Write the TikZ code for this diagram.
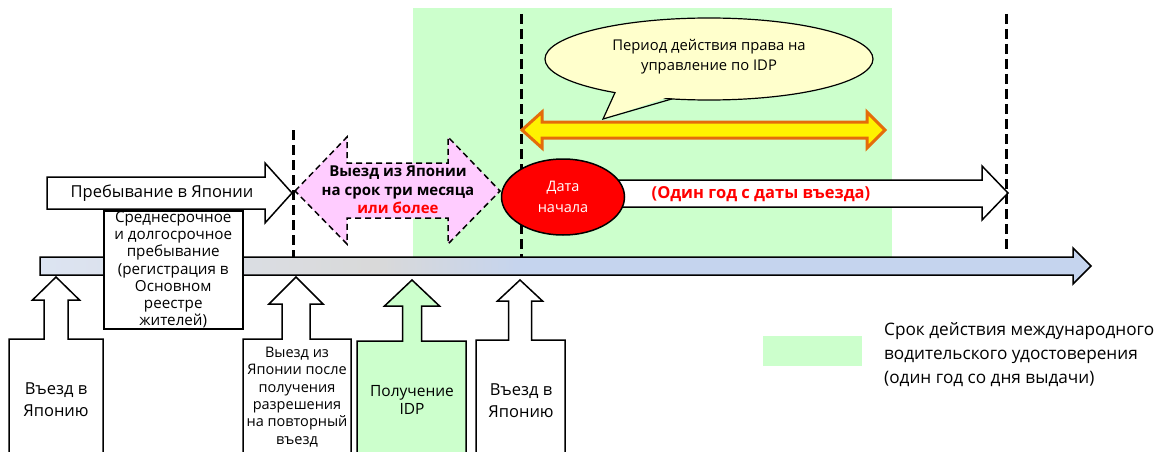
\documentclass[tikz,border=0pt]{standalone}
\usepackage{fontspec}
\setmainfont{Open Sans}
\usetikzlibrary{shapes.geometric}
\definecolor{idpgreen}{HTML}{CCFFCC}
\definecolor{pinkfill}{HTML}{FFCCFF}
\definecolor{bubble}{HTML}{FFFFCC}
\definecolor{orangeb}{HTML}{E46C0A}
\definecolor{barA}{HTML}{DCE4F2}
\definecolor{barB}{HTML}{D9D9D9}
\definecolor{barC}{HTML}{C5D4EE}
\pgfdeclarehorizontalshading{barshade}{100bp}{color(0bp)=(barA); color(25bp)=(barA); color(41bp)=(barB); color(48bp)=(barC); color(75bp)=(barC); color(100bp)=(barC)}
\newcommand{\upcall}[9]{%
  % #1 box left, #2 box right, #3 tip x, #4 tip y, #5 wing half, #6 shaft half, #7 head base y, #8 box top, #9 fill
  \filldraw[blk, fill=#9] (#3,#4) -- ({#3+#5},#7) -- ({#3+#6},#7) -- ({#3+#6},#8) -- (#2,#8) -- (#2,460)
    -- (#1,460) -- (#1,#8) -- ({#3-#6},#8) -- ({#3-#6},#7) -- ({#3-#5},#7) -- cycle;}
\begin{document}
\begin{tikzpicture}[x=1pt,y=-1pt, line join=miter]
\tikzset{
  blk/.style={draw=black, line width=1.5pt},
  dashv/.style={draw=black, line width=3pt, dash pattern=on 10pt off 5pt},
  txt/.style={font=\fontsize{14.5}{17.3}\selectfont, align=center, inner sep=0pt},
  bigtxt/.style={font=\fontsize{16.5}{22}\selectfont, align=center, inner sep=0pt},
}
\useasboundingbox (0,0) rectangle (1157,452);
\clip (0,0) rectangle (1157,452);
% validity region
\fill[idpgreen] (413,8) rectangle (892,257);
% dashed vertical lines
\draw[dashv] (293,130) -- (293,257);
\draw[dashv] (521,14) -- (521,257);
\draw[dashv] (1006,14) -- (1006,253);
% main timeline bar
\shade[shading=barshade] (40,257) -- (1073,257) -- (1073,248) -- (1091,266) -- (1073,284) -- (1073,275) -- (40,275) -- cycle;
\draw[blk] (40,257) -- (1073,257) -- (1073,248) -- (1091,266) -- (1073,284) -- (1073,275) -- (40,275) -- cycle;
% stay arrow
\filldraw[blk, fill=white] (47,177) -- (265,177) -- (265,163) -- (292,193) -- (265,223) -- (265,209) -- (47,209) -- cycle;
\node[bigtxt] (stay) at (162,193) {Пребывание в Японии};
% mid/long-term box
\node[txt, font=\fontsize{15.2}{17.3}\selectfont, draw=black, line width=1.5pt, fill=white, minimum width=139pt, minimum height=118pt, anchor=north west] (midlong) at (103,210)
  {Среднесрочное\\и долгосрочное\\пребывание\\(регистрация в\\Основном\\реестре\\жителей)};
% pink double arrow
\filldraw[fill=pinkfill, draw=black, line width=1.5pt, dash pattern=on 6pt off 4pt]
  (295,191) -- (347,137) -- (347,163) -- (448,163) -- (448,137) -- (500,191) -- (448,244) -- (448,218) -- (347,218) -- (347,244) -- cycle;
\node[font=\fontsize{15}{18.5}\selectfont\bfseries, align=center, inner sep=0pt] (leave) at (398,190)
  {Выезд из Японии\\на срок три месяца\\\textcolor{red}{или более}};
% speech bubble
\filldraw[draw=black, line width=1.2pt, fill=bubble] (709,59) ellipse [x radius=164, y radius=41];
\fill[bubble] (617,90) -- (603,119) -- (670,96.5) -- cycle;
\draw[black, line width=1.2pt] (615,92.6) -- (603,119) -- (672,98.9);
\node[txt, font=\fontsize{14.8}{20}\selectfont] (period) at (709,57) {Период действия права на\\управление по IDP};
% yellow double arrow
\filldraw[draw=orangeb, line width=3pt, fill=yellow]
  (522,130) -- (542,112) -- (542,122) -- (867,122) -- (867,112) -- (885,130) -- (867,148) -- (867,138) -- (542,138) -- (542,148) -- cycle;
% one-year arrow
\filldraw[blk, fill=white] (580,180) -- (982,180) -- (982,166) -- (1008,193) -- (982,220) -- (982,207) -- (580,207) -- cycle;
\node[font=\fontsize{16.5}{20}\selectfont\bfseries, text=red, inner sep=0pt] (oneyear) at (761,194) {(Один год с даты въезда)};
% start date ellipse
\node[ellipse, draw=black, line width=1.5pt, fill=red, minimum width=123pt, minimum height=76pt, inner sep=0pt,
  text=white, font=\fontsize{14.5}{21}\selectfont, align=center] (start) at (563,197) {Дата\\начала};
% up arrows with boxes
\upcall{9}{103}{56}{277}{23.5}{12}{300}{339}{white}
\node[bigtxt] (entry1) at (56,400) {Въезд в\\Японию};
\upcall{243}{351}{296}{277}{27}{14}{304}{339}{white}
\node[txt] (reentry) at (297,397) {Выезд из\\Японии после\\получения\\разрешения\\на повторный\\въезд};
\upcall{357}{466}{412}{280}{27.5}{9.5}{306}{341}{idpgreen}
\node[txt, font=\fontsize{15.5}{17.3}\selectfont] (getidp) at (412,400) {Получение\\IDP};
\upcall{476}{565}{520}{280}{22.5}{11.5}{301}{340}{white}
\node[bigtxt] (entry2) at (521,401) {Въезд в\\Японию};
% legend
\fill[idpgreen] (763,336) rectangle (862,366);
\node[font=\fontsize{17.2}{24}\selectfont, align=left, anchor=west, inner sep=0pt] (legend) at (884,355)
  {Срок действия международного\\водительского удостоверения\\(один год со дня выдачи)};
\end{tikzpicture}
\end{document}
